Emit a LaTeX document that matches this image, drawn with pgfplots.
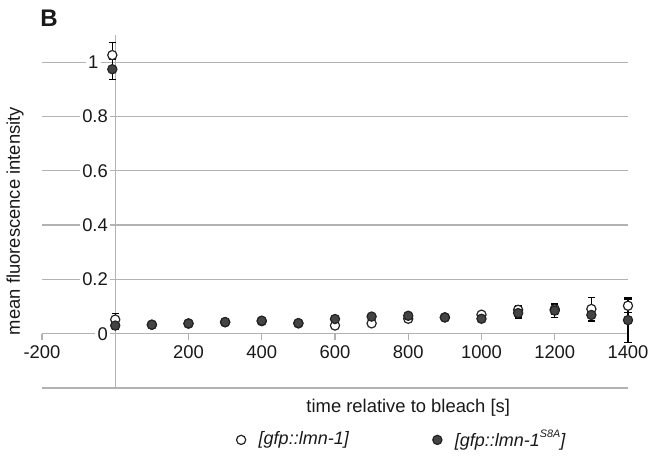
\documentclass[border=0pt]{standalone}
\usepackage{fontspec}
\setmainfont{Liberation Sans}
\usepackage{pgfplots}
\pgfplotsset{compat=1.18}
\definecolor{gridgray}{RGB}{178,178,178}
\definecolor{txt}{RGB}{25,25,25}
\definecolor{darkfill}{RGB}{68,68,68}
\definecolor{edge}{RGB}{35,35,35}
\pgfplotsset{
  errstyle/.style={
    error bars/y dir=both, error bars/y explicit,
    error bars/error bar style={black, line width=0.6pt},
    error bars/error mark options={black, line width=0.6pt, mark size=1.8pt, rotate=90},
  }
}
\newcommand{\smallsup}[1]{\raisebox{0.9ex}{\fontsize{5.4}{6}\selectfont #1}}

\begin{document}
\begin{tikzpicture}
\useasboundingbox (0,0) rectangle (330.5pt,231pt);
\begin{axis}[
    at={(21pt,37pt)}, anchor=south west,
    scale only axis, width=293pt, height=176.5pt,
    xmin=-200, xmax=1400, ymin=-0.2, ymax=1.1,
    axis lines=middle, axis line style={gridgray, line width=0.6pt, -},
    hide obscured x ticks=false, hide obscured y ticks=false,
    clip=false,
    font=\fontsize{9.2}{11}\selectfont,
    text=txt,
    /pgf/number format/assume math mode=true,
    /pgf/number format/1000 sep={},
    xtick={-200,200,400,600,800,1000,1200,1400},
    ytick={0,0.2,0.4,0.6,0.8,1},
    yticklabels={0,0.2,0.4,0.6,0.8,1},
    extra y ticks={-0.2},
    extra y tick labels={},
    extra y tick style={grid=major, yticklabel style={fill=none}},
    ymajorgrids, grid style={gridgray, line width=0.6pt},
    xtick align=outside, major tick length=3pt,
    x tick style={gridgray, line width=0.6pt},
    y tick style={draw=none},
    xticklabel style={yshift=0.5pt},
    yticklabel style={fill=white, inner sep=1.2pt,
        xshift={-0.8-4.7*(\ticknum==5)}},
    xlabel={time relative to bleach [s]},
    ylabel={mean fluorescence intensity},
    xlabel style={at={(axis description cs:0.625,-0.057)}, anchor=center},
    ylabel style={at={(axis description cs:-0.046,0.473)}, rotate=90, anchor=center},
    legend style={at={(axis description cs:0.616,-0.147)}, anchor=center,
        draw=none, fill=none, font=\fontsize{9.0}{11}\selectfont\itshape,
        legend columns=2,
        /tikz/every even column/.append style={column sep=40pt}},
    legend cell align=left,
]

% [gfp::lmn-1]
\addplot+[only marks, mark=*, mark size=2.3pt, errstyle,
    mark options={fill=white, draw=edge, line width=0.6pt}]
    table[x=t, y=v, y error=e] {
t v e
-8 1.026 0.045
0 0.052 0.022
100 0.033 0.005
200 0.037 0.005
300 0.042 0.005
400 0.046 0.005
500 0.038 0.005
600 0.030 0.005
700 0.038 0.006
800 0.055 0.006
900 0.060 0.006
1000 0.070 0.010
1100 0.088 0.015
1200 0.090 0.018
1300 0.091 0.043
1400 0.103 0.025
};
\addlegendentry{\hspace{4.5pt}[gfp::lmn-1]}

% [gfp::lmn-1 S8A]
\addplot+[only marks, mark=*, mark size=2.3pt, errstyle,
    mark options={fill=darkfill, draw=edge, line width=0.6pt}]
    table[x=t, y=v, y error=e] {
t v e
-8 0.974 0.037
0 0.030 0.015
100 0.033 0.004
200 0.038 0.006
300 0.043 0.005
400 0.048 0.005
500 0.039 0.005
600 0.054 0.005
700 0.063 0.006
800 0.066 0.006
900 0.060 0.005
1000 0.055 0.007
1100 0.076 0.018
1200 0.085 0.025
1300 0.069 0.025
1400 0.050 0.082
};
\addlegendentry{\hspace{4.5pt}[gfp::lmn-1\smallsup{S8A}]}

\node[font=\fontsize{12}{14}\selectfont\bfseries, text=txt, anchor=center]
    at (axis description cs:0.012,1.048) {B};
\end{axis}
\end{tikzpicture}
\end{document}
